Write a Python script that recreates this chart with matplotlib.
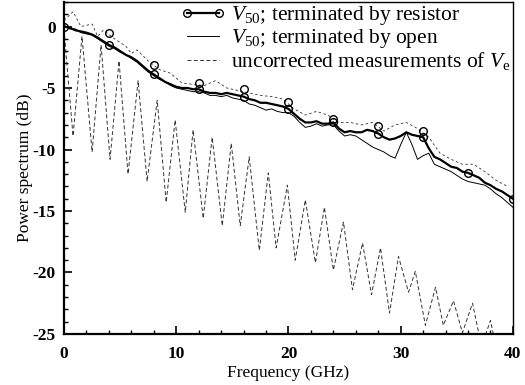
import matplotlib

matplotlib.use("Agg")
import matplotlib.pyplot as plt
from matplotlib.ticker import MultipleLocator
import numpy as np

plt.rcParams["font.family"] = ["Liberation Serif", "DejaVu Serif"]
plt.rcParams["mathtext.fontset"] = "custom"
plt.rcParams["mathtext.rm"] = "Liberation Serif"
plt.rcParams["mathtext.it"] = "Liberation Serif:italic"
plt.rcParams["axes.unicode_minus"] = False

# frequency grid of the two corrected spectra (GHz)
freq = np.arange(0, 40.01, 0.5)

v50_resistor = [
    0.0, -0.1, -0.3, -0.4, -0.5, -0.65, -0.9, -1.2, -1.5, -1.7,
    -2.0, -2.3, -2.5, -2.8, -3.2, -3.6, -3.9, -4.2, -4.5, -4.7,
    -4.9, -5.0, -5.0, -5.1, -5.1, -5.3, -5.4, -5.4, -5.5, -5.4,
    -5.5, -5.6, -5.7, -5.9, -6.0, -6.2, -6.2, -6.3, -6.4, -6.5,
    -6.7, -7.1, -7.5, -7.8, -7.8, -7.7, -7.9, -7.9, -7.8, -8.3,
    -8.6, -8.5, -8.6, -8.6, -8.4, -8.5, -8.7, -9.0, -9.2, -9.1,
    -8.9, -8.6, -8.8, -8.9, -9.0, -9.9, -10.6, -10.8, -11.1, -11.4,
    -11.5, -11.8, -11.9, -12.1, -12.3, -12.7, -12.9, -13.2, -13.4, -13.7,
    -14.0,
]

v50_open = [
    0.1, -0.2, -0.2, -0.5, -0.6, -0.7, -1.0, -1.3, -1.6, -1.8,
    -2.1, -2.3, -2.6, -2.9, -3.3, -3.7, -4.0, -4.3, -4.5, -4.8,
    -5.0, -5.1, -5.2, -5.3, -5.3, -5.4, -5.6, -5.6, -5.7, -5.6,
    -5.8, -5.9, -6.0, -6.3, -6.4, -6.6, -6.8, -6.7, -6.9, -7.0,
    -7.0, -7.3, -7.8, -8.2, -8.1, -7.9, -8.1, -8.0, -8.0, -8.5,
    -8.9, -8.8, -8.9, -9.2, -9.5, -9.8, -10.0, -10.2, -10.5, -10.7,
    -9.6, -8.6, -9.6, -10.8, -10.5, -10.3, -11.2, -11.4, -11.6, -11.8,
    -12.1, -12.4, -12.6, -12.7, -12.8, -12.9, -13.2, -13.6, -13.9, -14.3,
    -14.7,
]

# uncorrected measurement: read at its peaks and dips
unc_freq = [
    0.0, 0.8, 1.6, 2.5, 3.3, 4.1, 4.9, 5.7, 6.6, 7.4, 8.3, 9.1, 9.9, 10.8,
    11.5, 12.4, 13.2, 14.1, 14.9, 15.7, 16.5, 17.4, 18.2, 18.9, 19.9, 20.6,
    21.5, 22.4, 23.2, 24.0, 24.9, 25.7, 26.6, 27.4, 28.2, 29.0, 29.8, 30.7,
    31.3, 32.2, 33.1, 33.8, 34.7, 35.5, 36.4, 37.2, 38.0, 38.7,
]
unc_db = [
    -0.3, -8.9, -0.8, -10.2, -1.5, -10.8, -2.8, -12.0, -4.4, -12.6, -6.0, -14.3,
    -7.6, -15.1, -8.4, -15.6, -9.0, -16.2, -9.5, -16.2, -10.6, -18.2, -11.9,
    -18.0, -12.9, -19.0, -14.1, -19.2, -14.7, -19.8, -15.9, -21.4, -17.6, -21.8,
    -18.0, -23.3, -18.7, -21.6, -19.9, -24.3, -21.2, -24.3, -22.3, -24.9, -22.5,
    -26.0, -23.9, -27.0,
]

# second dashed trace running just above the corrected spectra
upper_freq = [
    0.0, 0.8, 1.5, 2.5, 3.0, 3.5, 4.5, 5.5, 6.0, 6.5, 7.5, 8.5, 9.5, 10.5,
    11.5, 12.5, 13.5, 14.5, 15.5, 16.5, 17.5, 18.5, 19.5, 20.5, 21.5, 22.5,
    23.5, 24.5, 25.5, 26.5, 27.5, 28.5, 29.5, 30.5, 31.5, 32.5, 33.5, 34.5,
    35.5, 36.5, 37.5, 38.5, 39.5,
]
upper_db = [
    0.5, 1.2, 0.0, 0.2, -0.8, -0.3, -1.0, -1.6, -2.2, -1.9, -2.8, -3.5, -3.8,
    -4.6, -4.7, -4.8, -4.4, -5.0, -5.2, -5.4, -5.6, -5.7, -5.9, -6.7, -7.2,
    -6.9, -7.2, -7.8, -7.8, -8.0, -7.8, -8.5, -8.0, -7.8, -8.3, -9.0, -10.3,
    -10.8, -11.2, -11.2, -11.8, -12.5, -13.0,
]

# extra open circles sitting above the resistor curve
circ_freq = [4, 8, 12, 16, 20, 24, 28, 32]
circ_db = [-0.5, -3.1, -4.6, -5.1, -6.1, -7.5, -8.1, -8.5]

fig = plt.figure(figsize=(5.25, 3.85), dpi=100)
ax = fig.add_axes([0.122, 0.1325, 0.855, 0.8625])

ax.plot(unc_freq, unc_db, color="0.2", lw=0.7, ls=(0, (4, 2.5)),
        label=r"uncorrected measurements of $V_\mathrm{e}$", zorder=2)
ax.plot(upper_freq, upper_db, color="0.2", lw=0.6, ls=(0, (3, 3)), zorder=2)
ax.plot(freq, v50_open, color="k", lw=0.7,
        label=r"$V_{50}$; terminated by open", zorder=3)
ax.plot(freq, v50_resistor, color="k", lw=1.6, marker="o", ms=5.5,
        mfc="none", mew=1.0, markevery=8,
        label=r"$V_{50}$; terminated by resistor", zorder=4)
ax.plot(circ_freq, circ_db, ls="none", marker="o", ms=5.5, mfc="none",
        mec="k", mew=1.0, zorder=4)

ax.set_xlim(0, 40)
ax.set_ylim(-25, 2)
ax.xaxis.set_major_locator(MultipleLocator(10))
ax.xaxis.set_minor_locator(MultipleLocator(2))
ax.yaxis.set_major_locator(MultipleLocator(5))
ax.yaxis.set_minor_locator(MultipleLocator(1))
ax.tick_params(which="major", direction="in", length=6, width=1.2)
ax.tick_params(which="minor", direction="in", length=3, width=1.0)
ax.tick_params(axis="x", which="major", pad=9)
ax.tick_params(axis="y", which="major", pad=6)
for lab in ax.get_xticklabels() + ax.get_yticklabels():
    lab.set_fontweight("bold")
    lab.set_fontsize(12.5)
for sp in ax.spines.values():
    sp.set_linewidth(1.0)
ax.spines["left"].set_linewidth(1.6)
ax.spines["bottom"].set_linewidth(1.6)

ax.set_xlabel("Frequency (GHz)", fontsize=12.5, labelpad=2)
ax.set_ylabel("Power spectrum (dB)", fontsize=12.5, labelpad=0)

handles, labels = ax.get_legend_handles_labels()
order = [2, 1, 0]
ax.legend([handles[i] for i in order], [labels[i] for i in order],
          loc="upper right", frameon=False, fontsize=15.5, handlelength=2.1,
          handletextpad=0.25, labelspacing=0.0, borderaxespad=0.1,
          borderpad=0.0, numpoints=2)

fig.savefig("out.png", dpi=100)
